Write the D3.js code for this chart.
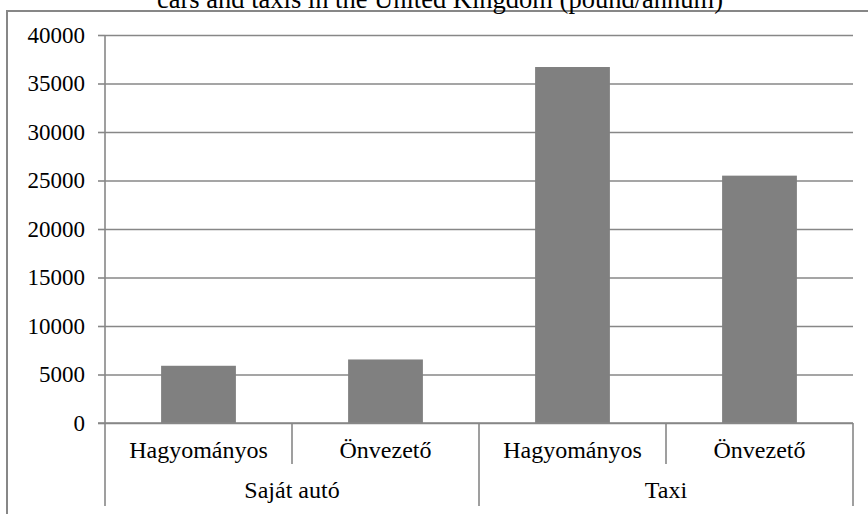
<!DOCTYPE html>
<html>
<head>
<meta charset="utf-8">
<script src="https://cdn.jsdelivr.net/npm/d3@7"></script>
<style>
  body { margin: 0; background: #fff; }
  svg text { font-family: "Liberation Serif", "Times New Roman", serif; fill: #000; }
</style>
</head>
<body>
<div id="chart"></div>
<script>
// data
var groups = ['Saját autó', 'Taxi']
var categories = ['Hagyományos', 'Önvezető', 'Hagyományos', 'Önvezető']
var groupOf = [0, 0, 1, 1]
var values = [5900, 6550, 36700, 25500]
var yTicks = [0, 5000, 10000, 15000, 20000, 25000, 30000, 35000, 40000]
var title = 'cars and taxis in the United Kingdom (pound/annum)'

var width = 868, height = 514
var plotLeft = 105, plotRight = 853, plotTop = 35, plotBottom = 423
var lineColor = '#878787'

var svg = d3.select('#chart').append('svg').attr('width', width).attr('height', height)

// outer chart frame (only top and left edges are visible)
svg.append('path')
    .attr('d', 'M7,' + (height + 5) + 'V11H' + (width + 5))
    .style('fill', 'none').style('stroke', lineColor).style('stroke-width', 2)

svg.append('text')
    .attr('x', 440).attr('y', 8)
    .attr('text-anchor', 'middle')
    .style('font-size', '26.5px')
    .text(title)

var x = d3.scaleBand()
    .domain(d3.range(categories.length))
    .range([plotLeft, plotRight])
    .paddingInner(0.6).paddingOuter(0.3)

var y = d3.scaleLinear().domain([0, 40000]).range([plotBottom, plotTop])

// gridlines
var grid = svg.append('g').attr('transform', 'translate(' + plotLeft + ',0)')
    .call(d3.axisLeft(y).tickValues(yTicks).tickSize(-(plotRight - plotLeft)).tickFormat(''))
grid.select('.domain').remove()
grid.selectAll('line').style('stroke', lineColor).style('stroke-width', 1.6)

// y axis with its ticks and labels
var yAxis = svg.append('g').attr('transform', 'translate(' + plotLeft + ',0)')
    .call(d3.axisLeft(y).tickValues(yTicks).tickSize(7).tickPadding(13).tickFormat(d3.format('d')))
yAxis.select('.domain').remove()
yAxis.selectAll('line').style('stroke', lineColor).style('stroke-width', 1.6)
yAxis.selectAll('text')
    .style('font-family', '"Liberation Serif", serif').style('font-size', '23px').style('fill', '#000')

// bars
svg.append('g').selectAll('rect').data(values).enter().append('rect')
    .attr('x', function(d, i) { return x(i) })
    .attr('y', function(d) { return y(d) })
    .attr('width', x.bandwidth())
    .attr('height', function(d) { return y(0) - y(d) })
    .style('fill', '#808080')

// category axis: baseline, separators and two label rows
var step = x.step()
var cat = svg.append('g')
cat.append('line')
    .attr('x1', plotLeft - 7).attr('x2', plotRight).attr('y1', plotBottom).attr('y2', plotBottom)
    .style('stroke', lineColor).style('stroke-width', 1.6)
cat.append('line')
    .attr('x1', plotLeft).attr('x2', plotLeft).attr('y1', plotTop).attr('y2', 506)
    .style('stroke', lineColor).style('stroke-width', 1.6)

// short separators between categories inside a group, long ones between groups
d3.range(1, categories.length + 1).forEach(function(i) {
    var xx = plotLeft + i * step
    var long = i == categories.length || groupOf[i] != groupOf[i - 1]
    cat.append('line')
        .attr('x1', xx).attr('x2', xx).attr('y1', plotBottom).attr('y2', long ? 506 : 464)
        .style('stroke', lineColor).style('stroke-width', 1.6)
})

cat.selectAll('text.cat').data(categories).enter().append('text')
    .attr('class', 'cat')
    .attr('x', function(d, i) { return x(i) + x.bandwidth() / 2 })
    .attr('y', 458)
    .attr('text-anchor', 'middle')
    .style('font-size', '24px')
    .text(function(d) { return d })

cat.selectAll('text.grp').data(groups).enter().append('text')
    .attr('class', 'grp')
    .attr('x', function(d, g) {
        var idx = d3.range(categories.length).filter(function(i) { return groupOf[i] == g })
        return (x(idx[0]) + x(idx[idx.length - 1]) + x.bandwidth()) / 2
    })
    .attr('y', 498)
    .attr('text-anchor', 'middle')
    .style('font-size', '24px')
    .text(function(d) { return d })
</script>
</body>
</html>
